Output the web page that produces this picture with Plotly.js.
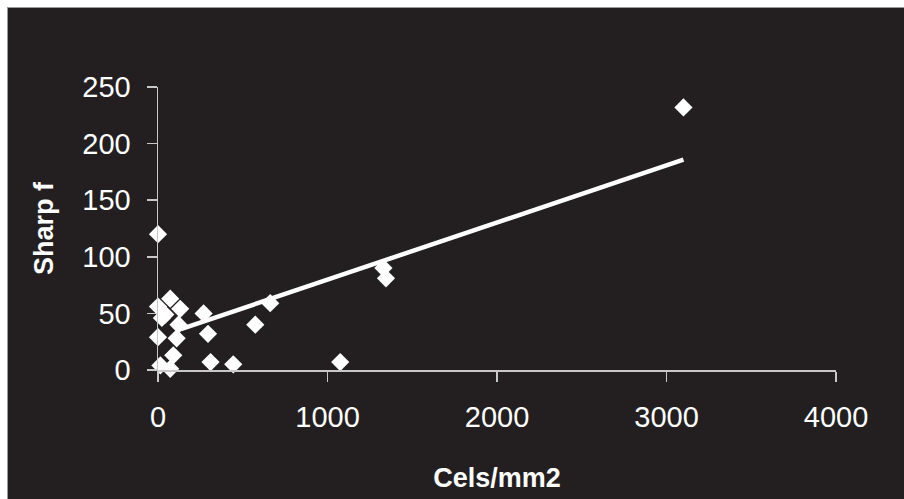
<!DOCTYPE html>
<html>
<head>
<meta charset="utf-8">
<script src="https://cdn.plot.ly/plotly-3.0.1.min.js"></script>
<style>
  html, body { margin: 0; padding: 0; background: #ffffff; width: 904px; height: 499px; overflow: hidden; }
  #wrap { position: absolute; left: 7px; top: 7px; width: 896px; height: 491px; border-top: 1px solid #9a9a9a; border-left: 1px solid #9a9a9a; background: #231f20; }
  #chart { width: 896px; height: 491px; }
</style>
</head>
<body>
<div id="wrap"><div id="chart"></div></div>
<script>
// Data
const cellsPerMm2 = [0, 72, 0, 131, 43, 23, 121, 269, 295, 574, 662, 1330, 1345, 0, 110, 90, 14, 72, 310, 444, 1075, 3100];
const sharpF      = [120, 63, 56, 54, 49, 46, 40, 50, 32, 40, 59, 90, 81, 29, 28, 13, 4, 1, 7, 5, 7, 232];
// Linear trend line as seen in the picture (start/end)
const trendX = [135, 3100];
const trendY = [36.1, 185.9];

const xTicks = [0, 1000, 2000, 3000, 4000];
const yTicks = [0, 50, 100, 150, 200, 250];

const bg = '#231f20';
const axisCol = '#c8c8c8';
const fontFam = '"Liberation Sans", Arial, Helvetica, sans-serif';

const traces = [
  {
    x: trendX, y: trendY, type: 'scatter', mode: 'lines',
    line: { color: '#ffffff', width: 4.5 },
    hoverinfo: 'skip', showlegend: false, cliponaxis: false
  },
  {
    x: cellsPerMm2, y: sharpF, type: 'scatter', mode: 'markers',
    marker: { symbol: 'diamond', size: 14, color: '#ffffff', line: { width: 0 } },
    showlegend: false, cliponaxis: false
  }
];

const layout = {
  width: 896, height: 491,
  paper_bgcolor: bg, plot_bgcolor: bg,
  margin: { l: 150, r: 68, t: 79, b: 129 },
  font: { family: fontFam, color: '#ffffff' },
  showlegend: false,
  xaxis: {
    range: [0, 4000], tickvals: xTicks, ticktext: xTicks.map(String),
    showgrid: false, zeroline: false, showline: true, linecolor: axisCol, linewidth: 1.5,
    ticks: 'outside', ticklen: 10, tickwidth: 1.5, tickcolor: axisCol,
    ticklabelstandoff: 11,
    tickfont: { size: 29, color: '#ffffff', family: fontFam },
    title: { text: '<b>Cels/mm2</b>', font: { size: 27, color: '#ffffff', family: fontFam }, standoff: 36 },
    fixedrange: true
  },
  yaxis: {
    range: [0, 250], tickvals: yTicks, ticktext: yTicks.map(String),
    showgrid: false, zeroline: false, showline: true, linecolor: axisCol, linewidth: 1.5,
    ticks: 'outside', ticklen: 10, tickwidth: 1.5, tickcolor: axisCol,
    ticklabelstandoff: 10,
    tickfont: { size: 29, color: '#ffffff', family: fontFam },
    title: { text: '<b>Sharp f</b>', font: { size: 27, color: '#ffffff', family: fontFam }, standoff: 21 },
    fixedrange: true
  }
};

Plotly.newPlot('chart', traces, layout, { displayModeBar: false, staticPlot: true });
</script>
</body>
</html>
